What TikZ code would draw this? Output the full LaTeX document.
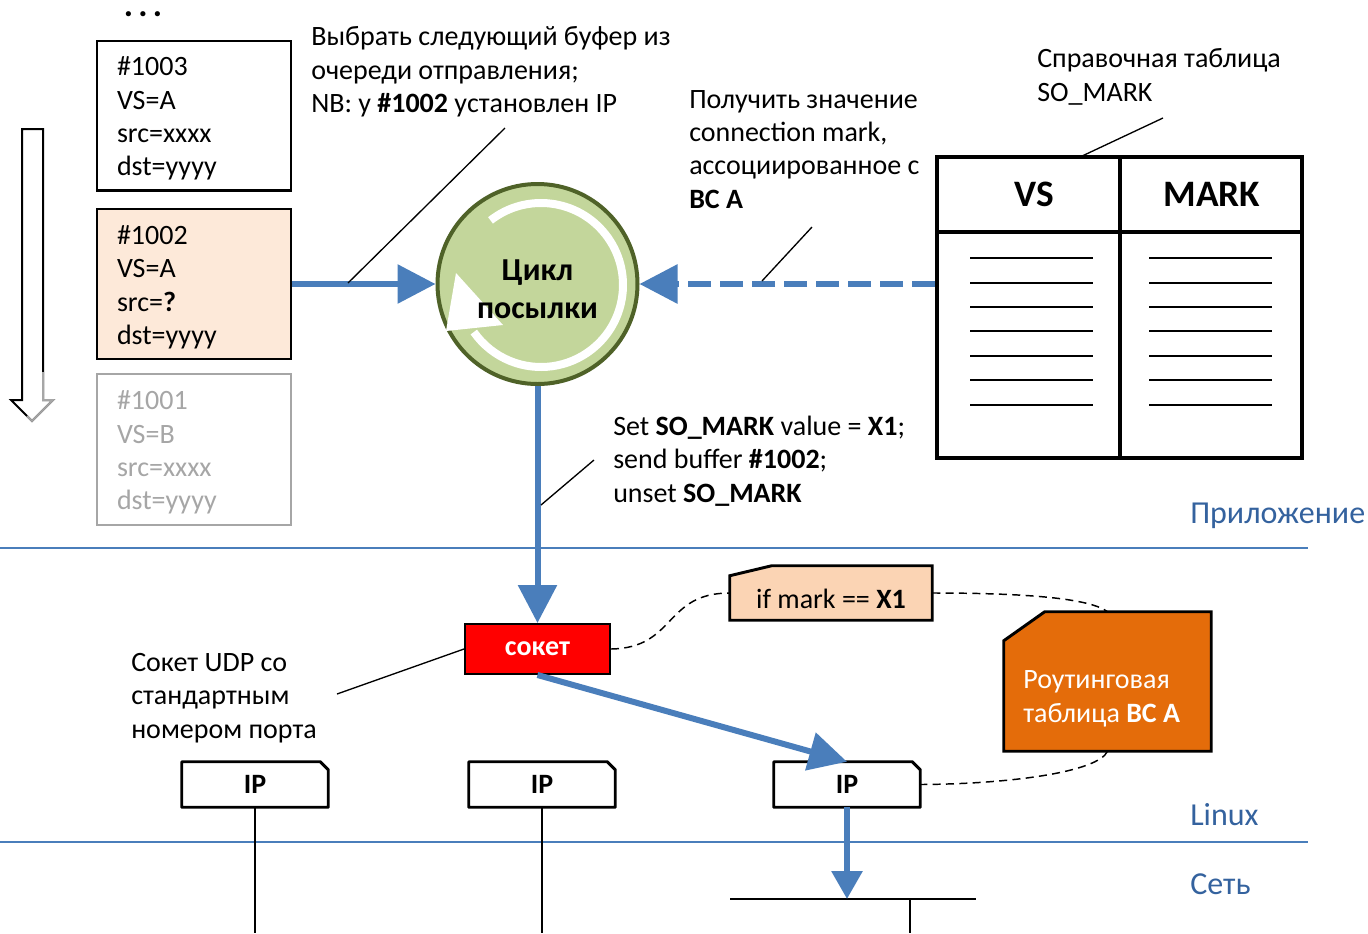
\documentclass[tikz,border=0pt]{standalone}
\usepackage{fontspec}
\setmainfont{Carlito}
\usetikzlibrary{arrows.meta,calc}

\definecolor{flowblue}{RGB}{74,126,187}
\definecolor{layerblue}{RGB}{52,98,158}
\definecolor{bufpeach}{RGB}{253,233,217}
\definecolor{condpeach}{RGB}{251,212,180}
\definecolor{loopgreen}{RGB}{195,214,155}
\definecolor{loopolive}{RGB}{79,98,40}
\definecolor{routeorange}{RGB}{228,108,10}
\definecolor{fadegray}{RGB}{166,166,166}

\tikzset{
  body/.style={font=\fontsize{21}{25}\selectfont},
  % multi-line notes are placed by the baseline of their last line
  note/.style={body, inner sep=0pt, align=left, anchor=base west},
  buffer/.style={body, draw, line width=2pt, minimum width=145.5pt, minimum height=112pt,
    inner xsep=15pt, inner ysep=0pt, text width=115.5pt, align=left},
  flowarrow/.style={draw=flowblue, line width=4.5pt, -{Triangle[length=28.5pt,width=28.5pt]}},
  calloutline/.style={line width=1pt},
  assocline/.style={line width=1.1pt, dash pattern=on 6pt off 4pt},
  ipbox/.style={font=\fontsize{21}{24}\selectfont\bfseries, minimum width=109.5pt,
    minimum height=33.75pt, inner sep=0pt},
  ipedge/.style={line width=2.2pt, line join=round},
  layerline/.style={draw=flowblue, line width=1.5pt},
  layername/.style={font=\fontsize{24}{28}\selectfont, text=layerblue, inner sep=0pt, anchor=base west},
  wire/.style={line width=2.2pt},
  hdr/.style={font=\fontsize{28}{32}\selectfont\bfseries, inner sep=0pt},
}
% taller first line pushes the buffer text a little down inside its box
\newcommand{\firstline}{\rule{0pt}{19pt}}

\begin{document}
\begin{tikzpicture}[x=0.75pt, y=-0.75pt]
\useasboundingbox (0,0) rectangle (1368,933);

% layer boundaries
\draw[layerline] (0,548) -- (1308,548);
\draw[layerline] (0,842) -- (1308,842);
\node[layername] (appName) at (1190,523) {Приложение};
\node[layername] (linuxName) at (1190,825) {Linux};
\node[layername] (netName) at (1190,894) {Сеть};

% send queue
\node[font=\fontsize{26}{28}\selectfont\bfseries, inner sep=0pt, anchor=base] (dots) at (143,16) {.\hspace{4pt}.\hspace{4pt}.};
\node[buffer] (b1003) at (194,115.5) {\firstline\#1003\\VS=A\\src=xxxx\\dst=yyyy};
\node[buffer, fill=bufpeach, minimum height=112.5pt] (b1002) at (194,284) {\firstline\#1002\\VS=A\\src=\textbf{?}\\dst=yyyy};
\node[buffer, draw=fadegray, text=fadegray, minimum height=113pt, line width=1.6pt] (b1001) at (194,449.5) {\firstline\#1001\\VS=B\\src=xxxx\\dst=yyyy};

% queue direction arrow
\draw[line width=1.5pt, line join=miter] (22,129) -- (43,129) -- (43,400) -- (53,400) -- (32,421) -- (11,400) -- (22,400) -- cycle;
\draw[fadegray, line width=1.5pt, line join=miter] (43,372) -- (43,400) -- (53,400) -- (32,421) -- (27,416);

% send loop
\node[circle, draw=loopolive, fill=loopgreen, line width=3pt, minimum size=150pt, inner sep=0pt] (loop) at (537.5,284) {};
\draw[white, line width=6pt] ($(loop.center)+(3.5,1)+(-128:82)$) arc[start angle=-128, end angle=145, radius=82];
\fill[white] (456,273) -- (446,331) -- (503,325) -- cycle;
\node[font=\fontsize{24}{28.5}\selectfont\bfseries, align=center, inner sep=0pt] (loopTxt) at (537.5,289) {Цикл\\посылки};

% SO_MARK lookup table
\node[draw, line width=3pt, minimum width=273.75pt, minimum height=225.75pt, inner sep=0pt] (tbl) at (1119.5,307.5) {};
\draw[line width=3.5pt] (937,232) -- (1302,232);
\draw[line width=3pt] (tbl.north) -- (tbl.south);
\foreach \y in {258,283,307,331,356,380,405} {
  \draw[line width=1.5pt] (970,\y) -- (1093,\y);
  \draw[line width=1.5pt] (1149,\y) -- (1272,\y);
}
\node[hdr] (hVS) at (1034,194) {VS};
\node[hdr] (hMark) at (1212,194) {MARK};

% socket
\node[draw, line width=1.5pt, fill=red, text=white, font=\fontsize{21}{24}\selectfont\bfseries,
  minimum width=108.75pt, minimum height=37.5pt, inner sep=0pt] (sock) at (537.5,649) {сокет};

% mark condition
\node[minimum width=151.5pt, minimum height=40.5pt, inner sep=0pt] (ifm) at (831,593) {};
\draw[fill=condpeach, line width=2.2pt] (ifm.south west) -- ($(ifm.north west)+(0,10)$) -- ($(ifm.north west)+(42,0)$) -- (ifm.north east) -- (ifm.south east) -- cycle;
\node[body, inner sep=0pt] (ifTxt) at (831,599) {if mark == \textbf{X1}};

% routing table of VS A
\node[minimum width=155.25pt, minimum height=104.25pt, inner sep=0pt] (rt) at (1107.5,681.5) {};
\draw[fill=routeorange, line width=2.2pt] (rt.south west) -- ($(rt.north west)+(0,29)$) -- ($(rt.north west)+(41,0)$) -- (rt.north east) -- (rt.south east) -- cycle;
\node[note, text=white] (rtTxt) at (1023,722) {Роутинговая\\таблица \textbf{ВС А}};

% IP interfaces
\foreach \n/\x in {ip1/255, ip2/542, ip3/847} {
  \node[ipbox] (\n) at (\x,784.5) {IP};
  \draw[ipedge] (\n.south west) -- (\n.north west) -- ($(\n.north east)+(-8,0)$) -- ($(\n.north east)+(0,8)$) -- (\n.south east) -- cycle;
}
\coordinate (bottom) at (0,933);
\coordinate (busL) at (730,899);
\coordinate (busR) at (976,899);
\coordinate (busDrop) at (910,899);
\draw[wire] (busL) -- (busR);
\draw[wire] (busDrop) -- (busDrop |- bottom);
\draw[wire] (ip1.south) -- (ip1.south |- bottom);
\draw[wire] (ip2.south) -- (ip2.south |- bottom);

% main flow
\draw[flowarrow] (b1002.east) -- (loop.west);
\draw[flowarrow, dash pattern=on 17pt off 7pt] (tbl.west |- loop.east) -- (loop.east);
\draw[flowarrow] (loop.south) -- (sock.north);
\draw[flowarrow] (sock.south) -- (ip3.north);
\draw[flowarrow, -{Triangle[length=21pt,width=22.5pt]}] (ip3.south) -- (ip3.south |- busL);

% associations
\draw[assocline] (sock.east) .. controls (676,648) and (664,593) .. (ifm.west);
\draw[assocline] (ifm.east) .. controls (1040,593) and (1092,600) .. (rt.north);
\draw[assocline] (rt.south) .. controls (1098,772) and (1010,784) .. (ip3.east);

% annotations
\node[note] (pickTxt) at (311,112.5) {Выбрать следующий буфер из\\очереди отправления;\\NB: у \textbf{\#1002} установлен IP};
\node[note] (getTxt) at (689,208) {Получить значение\\connection mark,\\ассоциированное с\\\textbf{ВС А}};
\node[note] (refTxt) at (1037,101) {Справочная таблица\\SO\_MARK};
\node[note] (sendTxt) at (613,502) {Set \textbf{SO\_MARK} value = \textbf{X1};\\send buffer \textbf{\#1002};\\unset \textbf{SO\_MARK}};
\node[note] (udpTxt) at (131,738) {Сокет UDP со\\стандартным\\номером порта};

\coordinate (pickEnd) at (505,128);
\coordinate (pickTip) at (348,283);
\coordinate (getEnd) at (812,227);
\coordinate (getTip) at (762,281);
\coordinate (refEnd) at (1163,118);
\coordinate (refTip) at (1080,157);
\coordinate (sendEnd) at (594,460);
\coordinate (sendTip) at (541,505);
\coordinate (udpEnd) at (337,694);
\draw[calloutline] (pickEnd) -- (pickTip);
\draw[calloutline] (getEnd) -- (getTip);
\draw[calloutline] (refEnd) -- (refTip);
\draw[calloutline] (sendEnd) -- (sendTip);
\draw[calloutline] (udpEnd) -- (sock.west);
\end{tikzpicture}
\end{document}
